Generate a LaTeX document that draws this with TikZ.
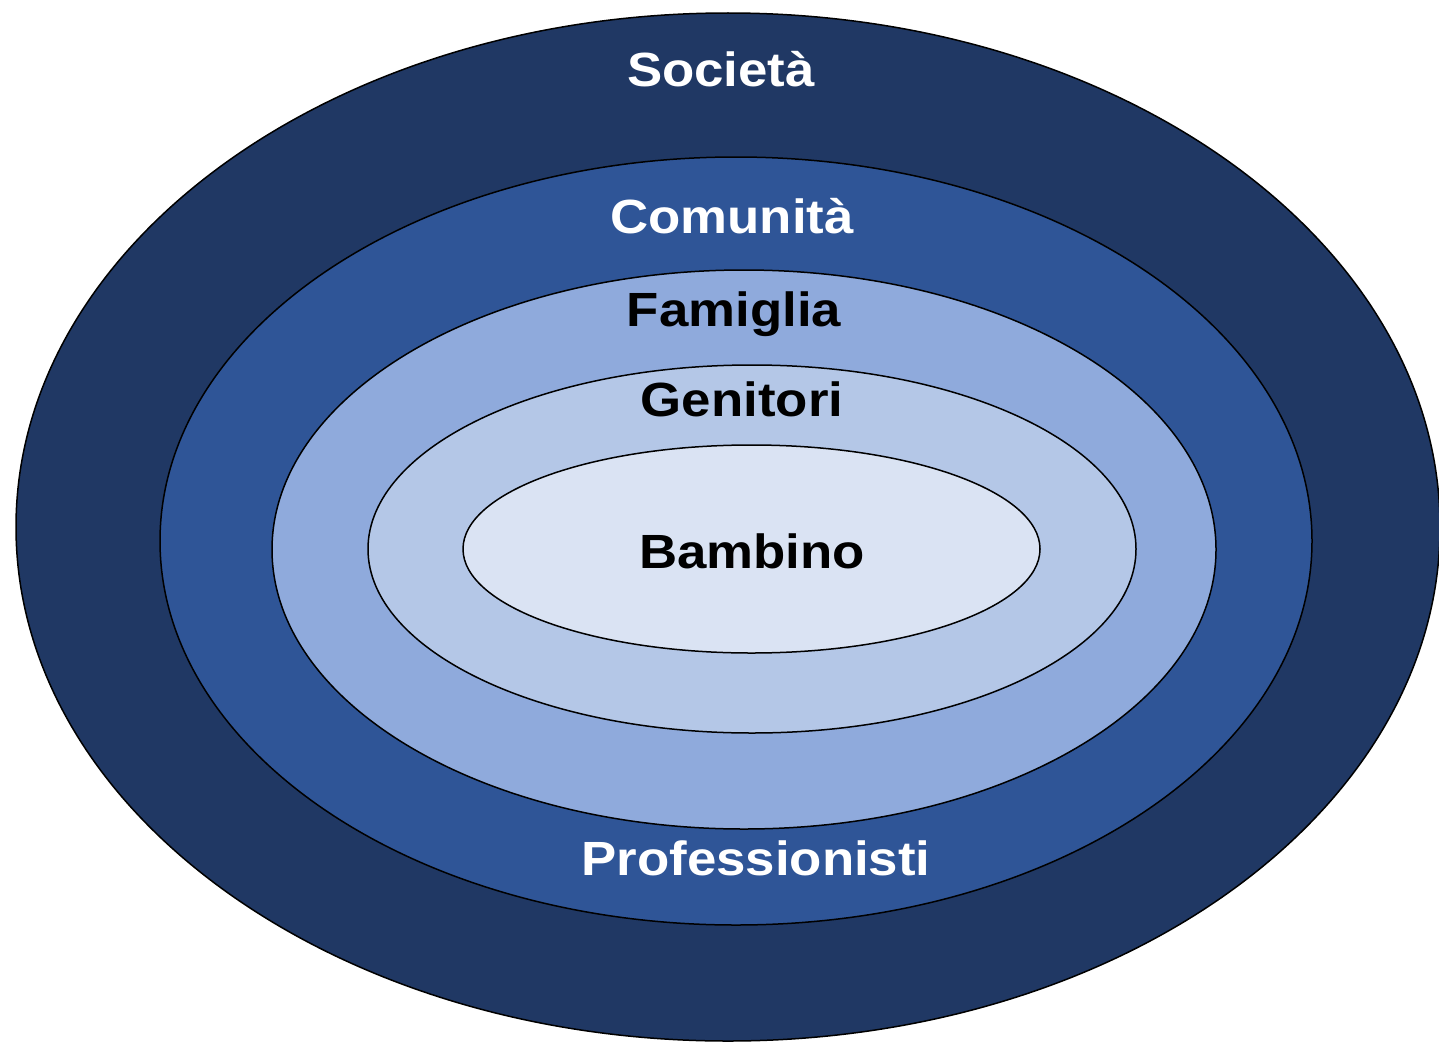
\documentclass[tikz,border=0pt]{standalone}
\usepackage{fontspec}
\setmainfont{Liberation Sans}[FakeStretch=1.1]
\definecolor{c1}{HTML}{203864}
\definecolor{c2}{HTML}{2F5597}
\definecolor{c3}{HTML}{8FAADC}
\definecolor{c4}{HTML}{B4C7E7}
\definecolor{c5}{HTML}{DAE3F3}
\begin{document}
\begin{tikzpicture}[x=1pt,y=-1pt,
  ring/.style={draw=black,line width=1.5pt},
  lbl/.style={font=\fontsize{48}{56}\selectfont\bfseries,inner sep=0pt,anchor=base}]
\useasboundingbox (0,0) rectangle (1439,1041);
\begin{scope}
\clip (0,0) rectangle (1439,1041);
\fill[ring,fill=c1] (728,527) ellipse [x radius=712,y radius=514];
\end{scope}
\fill[ring,fill=c2] (736,541) ellipse [x radius=576,y radius=384];
\fill[ring,fill=c3] (744,549.5) ellipse [x radius=472,y radius=279.5];
\fill[ring,fill=c4] (752,549) ellipse [x radius=384,y radius=184];
\fill[ring,fill=c5] (751.5,549) ellipse [x radius=288.5,y radius=104];
\node[lbl,text=white] (soc) at (721,86) {Società};
\node[lbl,text=white] (com) at (732,233) {Comunità};
\node[lbl] (fam) at (734,326) {Famiglia};
\node[lbl] (gen) at (742,416) {Genitori};
\node[lbl] (bam) at (752,568) {Bambino};
\node[lbl,text=white] (pro) at (756,875) {Professionisti};
\end{tikzpicture}
\end{document}
